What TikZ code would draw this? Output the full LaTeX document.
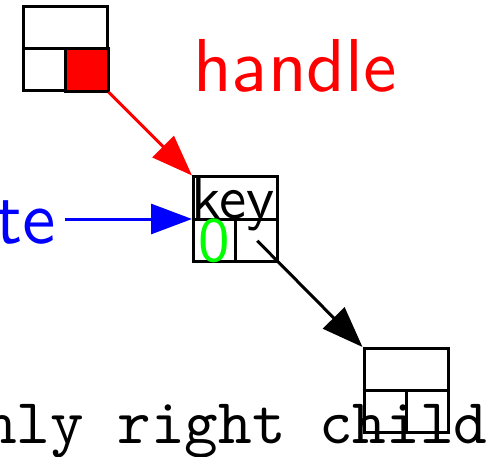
\documentclass[tikz,border=0pt]{standalone}
\usepackage{fontspec}
\newfontfamily\sften{lmsans10-regular.otf}
\newfontfamily\ttten{lmmono10-regular.otf}
\usetikzlibrary{arrows.meta,calc}
\tikzset{
	cellbox/.style={draw, line width=3pt, minimum width=84pt, minimum height=84pt, inner sep=0pt},
	link/.style={line width=3pt, -{Triangle[length=41pt,width=30pt]}},
	lbl/.style={inner sep=0pt, font=\sften\fontsize{#1}{#1}\selectfont},
}
\begin{document}
\begin{tikzpicture}[x=1pt,y=-1pt]
	\useasboundingbox (0,0) rectangle (492,457);
	\clip (0,0) rectangle (492,457);
	% the three cells
	\node[cellbox] (top) at (65,48.5) {};
	\node[cellbox] (key) at (235.5,219) {};
	\node[cellbox] (bot) at (406,390.5) {};
	\fill[red] (top.center) rectangle (top.south east);
	\draw[line width=3pt] (top.center) rectangle (top.south east);
	\foreach \b in {top,key,bot}
		\draw[line width=3pt] (\b.west) -- (\b.east) (\b.center) -- (\b.south);
	% labels
	\node[lbl=75, text=red, anchor=base west] (handle) at (193,92) {handle};
	\node[lbl=61, anchor=base west] (keytext) at (191,218) {key};
	\node[lbl=63, text=green, anchor=base west] (zero) at (198,261) {0};
	\node[lbl=75, text=blue, anchor=base east, inner xsep=9pt] (del) at (65,243) {te};
	\node[inner sep=0pt, anchor=base west, font=\ttten\fontsize{64}{64}\selectfont] (only) at (-17,443) {nly right child};
	% pointers
	\coordinate (kr) at ($(key.center)!0.5!(key.south east)$);
	\draw[link, red] (top.south east) -- (key.north west);
	\draw[link, blue] (key.west -| del.east) -- (key.west);
	\draw[link] (kr) -- (bot.north west);
\end{tikzpicture}
\end{document}
